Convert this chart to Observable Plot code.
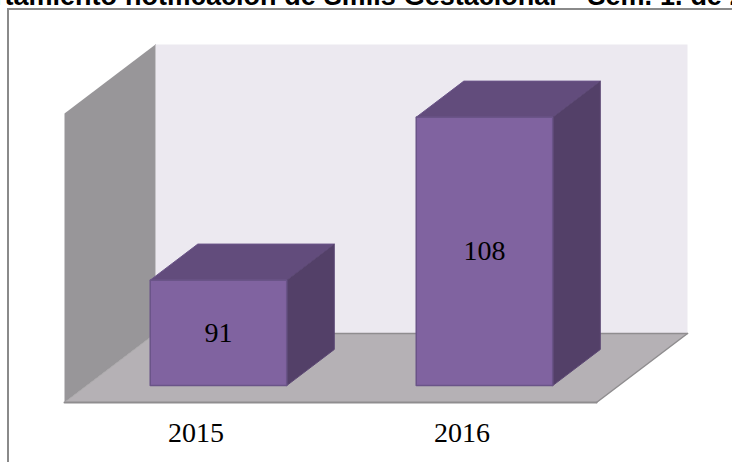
<!DOCTYPE html>
<html lang="es">
<head>
<meta charset="utf-8">
<script src="https://cdn.jsdelivr.net/npm/d3@7"></script>
<script src="https://cdn.jsdelivr.net/npm/@observablehq/plot@0.6"></script>
<style>
  html, body { margin: 0; padding: 0; width: 732px; height: 462px; overflow: hidden; background: #fff; }
  #border { position: absolute; left: 7px; top: 8px; right: -4px; bottom: -4px; border-left: 2px solid #8a8a8a; border-top: 2px solid #8a8a8a; }
  #title { position: absolute; left: -99px; top: -19px; white-space: nowrap; font: bold 27px "Liberation Sans", Arial, sans-serif; color: #000; word-spacing: 0.4px; }
  #chart { position: absolute; left: 0; top: 0; }
</style>
</head>
<body>
<div id="border"></div>
<div id="chart"></div>
<div id="title">Comportamiento notificación de Sífilis Gestacional – Sem. 1. de 2016</div>
<script>
const categories = ["2015", "2016"];
const values = [91, 108];
const axisBase = 80;
const axisTop = 110.15;
const depthX = 0.342;
const depthY = 7.2;
const barHalfWidth = 0.2565;
const barOffset = -0.005;
const barDepth = [0.245, 0.768];

// Oblique projection: a point in (category, value, depth) space becomes a point in data space.
const pt = (c, v, d) => ({x: c + d * depthX, y: v + d * depthY});
const face = (corners, fill, stroke, strokeWidth = 1) => {
  const closed = [...corners, corners[0]];
  return Plot.line(closed, {x: "x", y: "y", fill, stroke, strokeWidth, curve: "linear", strokeLinejoin: "miter"});
};
const edge = (a, b, stroke, strokeWidth) =>
  Plot.line([a, b], {x: "x", y: "y", stroke, strokeWidth, curve: "linear"});

const L = -0.5, R = categories.length - 0.5;
const marks = [
  // back wall
  face([pt(L, axisBase, 1), pt(R, axisBase, 1), pt(R, axisTop, 1), pt(L, axisTop, 1)], "#ece9f0", "none"),
  // side wall
  face([pt(L, axisBase, 0), pt(L, axisBase, 1), pt(L, axisTop, 1), pt(L, axisTop, 0)], "#989699", "none"),
  edge(pt(L, axisBase, 1), pt(L, axisTop, 1), "#c6c4c8", 1),
  // floor
  face([pt(L, axisBase, 0), pt(R, axisBase, 0), pt(R, axisBase, 1), pt(L, axisBase, 1)], "#b5b1b5", "none"),
  edge(pt(L, axisBase, 0), pt(L, axisBase, 1), "#a9a7a9", 1),
  edge(pt(L, axisBase, 1), pt(R, axisBase, 1), "#8f8d8f", 1.5),
  edge(pt(R, axisBase, 1), pt(R, axisBase, 0), "#8f8d8f", 1.5),
  edge(pt(R, axisBase, 0), pt(L, axisBase, 0), "#8f8d8f", 2)
];

values.forEach((v, i) => {
  const x0 = i + barOffset - barHalfWidth, x1 = i + barOffset + barHalfWidth;
  const [d0, d1] = barDepth;
  marks.push(
    face([pt(x0, v, d0), pt(x1, v, d0), pt(x1, v, d1), pt(x0, v, d1)], "#624c7c", "#6a5488"),
    face([pt(x1, axisBase, d0), pt(x1, axisBase, d1), pt(x1, v, d1), pt(x1, v, d0)], "#534068", "#5c4874"),
    face([pt(x0, axisBase, d0), pt(x1, axisBase, d0), pt(x1, v, d0), pt(x0, v, d0)], "#8063a0", "#6a5488", 1.5)
  );
});

const labelData = values.map((v, i) => ({...pt(i + barOffset, (v + axisBase) / 2, barDepth[0]), v}));
marks.push(
  Plot.text(labelData, {
    x: "x", y: "y", text: "v",
    fontFamily: "'Liberation Serif', serif", fontSize: 28, fill: "#000"
  }),
  Plot.axisX({
    ticks: categories.map((_, i) => i),
    tickFormat: i => categories[i],
    tickSize: 0, tickPadding: 20, label: null, anchor: "bottom", dx: -1.5,
    fontFamily: "'Liberation Serif', serif", fontSize: 28, fill: "#000"
  })
);

const chart = Plot.plot({
  width: 732,
  height: 462,
  marginLeft: 64,
  marginRight: 45,
  marginTop: 44,
  marginBottom: 60,
  style: {background: "transparent"},
  x: {domain: [L, R + depthX]},
  y: {domain: [axisBase, axisTop + depthY], axis: null},
  marks
});
document.getElementById("chart").append(chart);
</script>
</body>
</html>
